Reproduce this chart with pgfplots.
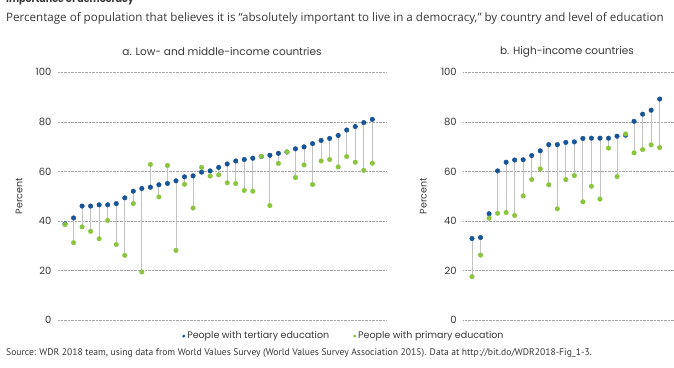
\documentclass[border=0pt]{standalone}
\usepackage{fontspec}
\setmainfont{PT Sans}
\newfontfamily\pop{Poppins}
\newfontfamily\osans{Open Sans}
\usepackage{pgfplots}
\pgfplotsset{compat=1.18}
\usepackage{pgfplotstable}
\definecolor{tblue}{RGB}{22,84,152}
\definecolor{tgreen}{RGB}{139,197,63}
\definecolor{stem}{RGB}{195,195,195}
\definecolor{gridc}{RGB}{165,165,165}
\definecolor{txt}{RGB}{55,55,55}

\pgfplotstableread{
x t p
1 38.8 38.5
2 41.2 31.2
3 46.0 37.6
4 46.0 35.8
5 46.5 32.8
6 46.5 40.2
7 47.0 30.5
8 49.3 26.1
9 52.0 47.0
10 53.1 19.4
11 53.6 62.8
12 54.6 49.7
13 55.1 62.4
14 56.2 28.1
15 57.8 54.8
16 58.2 45.2
17 59.7 61.6
18 60.2 58.1
19 61.6 58.6
20 63.0 55.4
21 64.2 55.1
22 64.8 52.3
23 65.3 52.0
24 66.0 66.1
25 66.5 46.2
26 67.3 63.2
27 67.8 67.9
28 69.1 57.5
29 69.9 62.6
30 71.2 54.7
31 72.5 64.2
32 73.3 64.8
33 74.5 61.8
34 76.7 66.0
35 78.1 63.7
36 79.7 60.4
37 81.0 63.3
}\lowmid

\pgfplotstableread{
x t p
1 32.9 17.5
2 33.3 26.2
3 42.9 41.1
4 60.2 43.1
5 63.7 43.4
6 64.6 42.2
7 64.7 50.1
8 66.4 56.7
9 68.3 61.0
10 70.8 54.6
11 70.8 44.9
12 71.7 56.7
13 71.9 58.3
14 73.3 47.7
15 73.4 54.0
16 73.4 48.8
17 73.4 69.4
18 74.2 57.9
19 74.6 75.1
20 80.2 67.5
21 83.1 68.8
22 84.7 70.7
23 89.2 69.6
}\highinc

\pgfplotsset{
  panel/.style={
    scale only axis, height=247.7pt, ymin=0, ymax=100,
    ytick={0,20,...,100}, xtick=\empty,
    axis line style={draw=none}, major tick length=0pt,
    ymajorgrids, grid style={densely dotted, gridc, line width=0.5pt},
    /pgf/number format/assume math mode=true,
    yticklabel style={font=\pop\fontsize{10}{12}\selectfont, text=txt, xshift=-3pt},
    ylabel={Percent},
    ylabel style={font=\pop\fontsize{9.5}{11}\selectfont, text=txt, anchor=center},
    clip=false,
  },
  stems/.style={draw=none, mark=none, forget plot,
    error bars/.cd, y dir=minus, y explicit,
    error mark=none, error bar style={stem, line width=0.9pt}},
  blued/.style={only marks, mark=*, mark size=2.3pt, color=tblue, mark options={fill=tblue, draw=tblue}, forget plot},
  greend/.style={only marks, mark=*, mark size=2.3pt, color=tgreen, mark options={fill=tgreen, draw=tgreen}, forget plot},
}

\begin{document}
\begin{tikzpicture}
\path[use as bounding box] (0pt,0pt) rectangle (674pt,367pt);
\node[anchor=base west, inner sep=0pt, font=\pop\bfseries\fontsize{9.5}{11}\selectfont, text=txt] at (6pt,364pt) {Importance of democracy};
\node[anchor=west, inner sep=0pt, font=\osans\fontsize{11.6}{13}\selectfont, text=txt] at (6pt,349pt) {Percentage of population that believes it is “absolutely important to live in a democracy,” by country and level of education};
\node[anchor=center, inner sep=0pt, font=\pop\fontsize{10.5}{12}\selectfont, text=txt] at (222pt,315pt) {a. Low- and middle-income countries};
\node[anchor=center, inner sep=0pt, font=\pop\fontsize{10.5}{12}\selectfont, text=txt] at (567pt,315pt) {b. High-income countries};
\node[anchor=west, inner sep=0pt, font=\fontsize{9.6}{11}\selectfont, text=txt] at (6pt,14pt) {Source: WDR 2018 team, using data from World Values Survey (World Values Survey Association 2015). Data at http://bit.do/WDR2018-Fig\_1-3.};

\begin{axis}[panel, at={(58pt,47pt)}, anchor=south west, width=329pt,
  xmin=0.18, xmax=38.72,
  ylabel style={at={(axis description cs:-0.1185,0.5)}},
  legend style={at={(axis description cs:0.869,-0.065)}, anchor=center, draw=none, fill=none,
    font=\pop\fontsize{9.5}{11}\selectfont, text=txt, legend columns=2,
    /tikz/every even column/.append style={column sep=22pt}},
  legend cell align=left]
\addplot[stems] table[x=x, y=t, y error expr=\thisrow{t}-\thisrow{p}] {\lowmid};
\addplot[blued] table[x=x, y=t] {\lowmid};
\addplot[greend] table[x=x, y=p] {\lowmid};
\addlegendimage{legend image code/.code={\fill[tblue] (0.12cm,0cm) circle (1.3pt);}}
\addlegendentry{People with tertiary education}
\addlegendimage{legend image code/.code={\fill[tgreen] (0.12cm,0cm) circle (1.3pt);}}
\addlegendentry{People with primary education}
\end{axis}

\begin{axis}[panel, at={(463.3pt,47pt)}, anchor=south west, width=210.7pt,
  xmin=-0.02, xmax=24.68,
  ylabel style={at={(axis description cs:-0.19,0.5)}}]
\addplot[stems] table[x=x, y=t, y error expr=\thisrow{t}-\thisrow{p}] {\highinc};
\addplot[blued] table[x=x, y=t] {\highinc};
\addplot[greend] table[x=x, y=p] {\highinc};
\end{axis}
\end{tikzpicture}
\end{document}
